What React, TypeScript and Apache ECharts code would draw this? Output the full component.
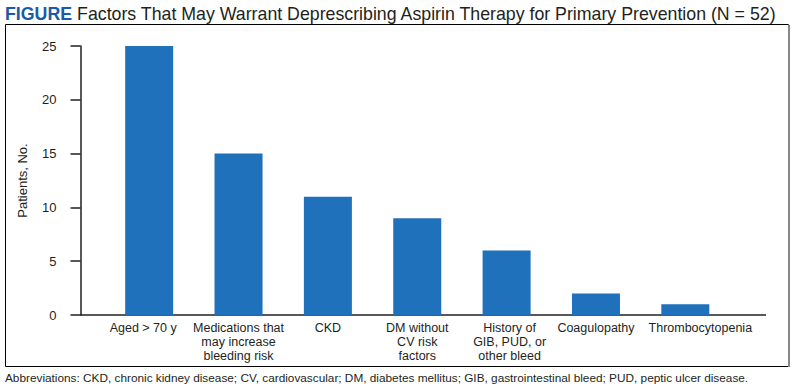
import React, { useEffect, useRef } from "react";
import * as echarts from "echarts";

const categories = [
  "Aged > 70 y",
  "Medications that\nmay increase\nbleeding risk",
  "CKD",
  "DM without\nCV risk\nfactors",
  "History of\nGIB, PUD, or\nother bleed",
  "Coagulopathy",
  "Thrombocytopenia",
];
const patients = [25, 15, 11, 9, 6, 2, 1];
const yTicks = [0, 5, 10, 15, 20, 25];

const titleLead = "FIGURE";
const titleText = "Factors That May Warrant Deprescribing Aspirin Therapy for Primary Prevention (N = 52)";
const yAxisName = "Patients, No.";
const footnote =
  "Abbreviations: CKD, chronic kidney disease; CV, cardiovascular; DM, diabetes mellitus; GIB, gastrointestinal bleed; PUD, peptic ulcer disease.";

// horizontal nudges of category labels (px, + = right), as seen in the reference
const labelShift = [-6, 0, 0, 0, 3, 0, 15];

const TEXT = "#231f20";
const BAR = "#1f71bb";
const FONT = "Liberation Sans, Arial, sans-serif";
const TITLE_SIZE = 19;

function measure(text: string, font: string): number {
  const c = document.createElement("canvas");
  const ctx = c.getContext("2d");
  if (!ctx) return text.length * 9;
  ctx.font = font;
  return ctx.measureText(text).width;
}

export default function App() {
  const ref = useRef<HTMLDivElement>(null);
  useEffect(() => {
    if (!ref.current) return;
    const chart = echarts.init(ref.current, null, { renderer: "svg" });

    const titleTarget = 773;
    const natural =
      measure(titleLead, `bold ${TITLE_SIZE}px ${FONT}`) +
      measure(" " + titleText, `${TITLE_SIZE}px ${FONT}`);
    const titleScale = titleTarget / natural;

    chart.setOption({
      animation: false,
      backgroundColor: "#ffffff",
      grid: { left: 104.5, right: 65, top: 46, bottom: 73, containLabel: false },
      xAxis: {
        type: "category",
        data: categories.map((c, i) => {
          const s = labelShift[i];
          return {
            value: c,
            textStyle: {
              padding: s >= 0 ? [0, 0, 0, 2 * s] : [0, -2 * s, 0, 0],
            },
          };
        }),
        axisLine: { show: false },
        axisTick: { show: false },
        axisLabel: {
          interval: 0,
          margin: 6,
          color: TEXT,
          fontFamily: FONT,
          fontSize: 12.5,
          lineHeight: 14,
        },
      },
      yAxis: {
        type: "value",
        min: 0,
        max: 25,
        interval: 5,
        offset: 24,
        name: yAxisName,
        nameLocation: "middle",
        nameGap: 52,
        nameRotate: 90,
        nameTextStyle: { color: TEXT, fontFamily: FONT, fontSize: 13 },
        axisLine: { show: true, lineStyle: { color: TEXT, width: 1.5 } },
        axisTick: { show: true, length: 10, lineStyle: { color: TEXT, width: 1.5 } },
        axisLabel: {
          margin: 24,
          color: TEXT,
          fontFamily: FONT,
          fontSize: 13,
          formatter: (v: number) => (yTicks.includes(v) ? String(v) : ""),
        },
        splitLine: { show: false },
      },
      series: [
        {
          type: "bar",
          data: patients,
          barWidth: 48,
          itemStyle: { color: BAR },
        },
      ],
      graphic: [
        {
          type: "text",
          x: 5,
          y: 4,
          scaleX: titleScale,
          style: {
            text: `{b|${titleLead}}{r| ${titleText}}`,
            verticalAlign: "top",
            rich: {
              b: { fontFamily: FONT, fontWeight: "bold", fontSize: TITLE_SIZE, fill: "#1b5aa6" },
              r: { fontFamily: FONT, fontWeight: "normal", fontSize: TITLE_SIZE, fill: TEXT },
            },
          },
          silent: true,
        },
        {
          type: "rect",
          shape: { x: 5.5, y: 24.5, width: 783, height: 342 },
          style: { fill: "none", stroke: "#000", lineWidth: 1 },
          silent: true,
        },
        {
          type: "line",
          shape: { x1: 789, y1: 25, x2: 789, y2: 367 },
          style: { stroke: "#888", lineWidth: 2 },
          silent: true,
        },
        {
          type: "line",
          shape: { x1: 80, y1: 315, x2: 766, y2: 315 },
          style: { stroke: TEXT, lineWidth: 1.5 },
          silent: true,
        },
        {
          type: "text",
          x: 5,
          y: 372,
          style: { text: footnote, fill: TEXT, font: `11.8px ${FONT}` },
          silent: true,
        },
      ],
    });
    return () => chart.dispose();
  }, []);
  return (
    <div
      ref={ref}
      style={{ position: "absolute", left: 0, top: 0, width: 795, height: 388 }}
    />
  );
}
